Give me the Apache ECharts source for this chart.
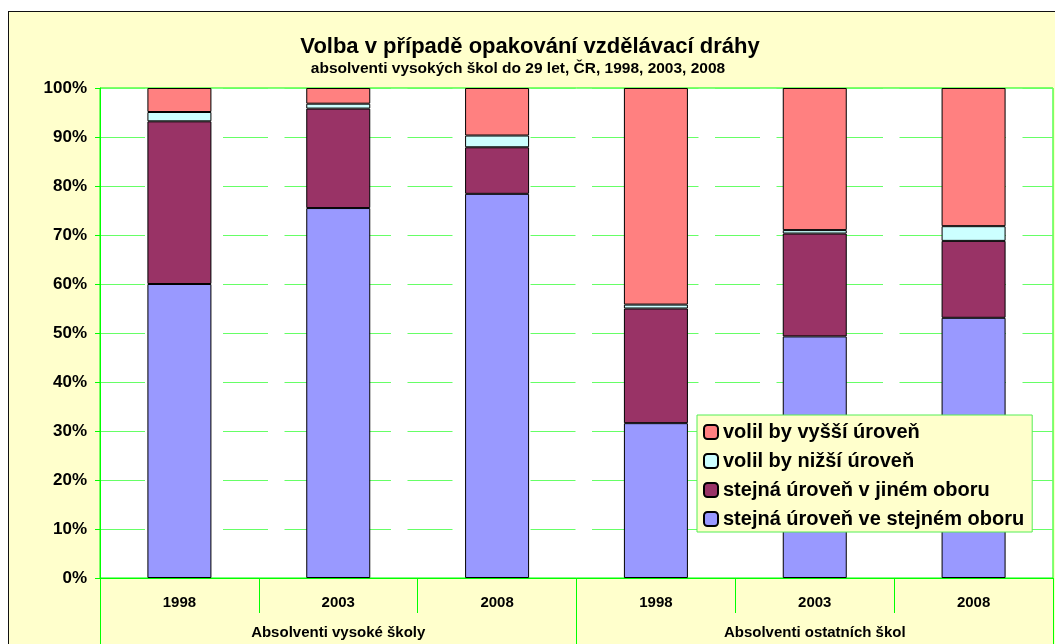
<!DOCTYPE html>
<html>
<head>
<meta charset="utf-8">
<script src="https://cdn.jsdelivr.net/npm/echarts@6/dist/echarts.min.js"></script>
<style>
  html, body { margin: 0; padding: 0; background: #fff; }
  #frame { position: absolute; left: 8px; top: 11px; width: 1100px; height: 700px; background: #FFFFCC; border: 1px solid #111; }
  #main { position: absolute; left: 0; top: 0; width: 1055px; height: 644px; }
  body { width: 1055px; height: 644px; overflow: hidden; position: relative; }
</style>
</head>
<body>
<div id="frame"></div>
<div id="main"></div>
<script>
// roky (spodni radek osy x) a skupiny (druhy radek)
const years = ['1998', '2003', '2008', '1998', '2003', '2008'];
const groups = ['Absolventi vysoké školy', 'Absolventi ostatních škol'];

// podily v %
const stejnaStejny = [60.0, 75.5, 78.4, 31.6, 49.3, 53.1];
const stejnaJiny = [33.2, 20.3, 9.5, 23.4, 21.0, 15.7];
const nizsi = [1.9, 1.0, 2.4, 0.8, 0.7, 3.0];
const vyssi = [4.9, 3.2, 9.7, 44.2, 29.0, 28.2];

const yTicks = [0, 10, 20, 30, 40, 50, 60, 70, 80, 90, 100];

var chartDom = document.getElementById('main');
var myChart = echarts.init(chartDom);
var option;

const FONT = 'Liberation Sans, Arial, sans-serif';
const GREEN = '#00FF00';

function barSeries(name, data, color) {
  return {
    name: name,
    type: 'bar',
    stack: 'celkem',
    xAxisIndex: 0,
    barWidth: 64,
    data: data,
    itemStyle: { color: color, borderColor: '#000', borderWidth: 1 }
  };
}

option = {
  backgroundColor: 'transparent',
  animation: false,
  graphic: [
    {
      type: 'text', x: 530, y: 47,
      style: {
        text: 'Volba v případě opakování vzdělávací dráhy',
        font: 'bold 22px ' + FONT, fill: '#000',
        textAlign: 'center', textVerticalAlign: 'middle'
      }
    },
    {
      type: 'text', x: 518, y: 69,
      style: {
        text: 'absolventi vysokých škol do 29 let, ČR, 1998, 2003, 2008',
        font: 'bold 15.5px ' + FONT, fill: '#000',
        textAlign: 'center', textVerticalAlign: 'middle'
      }
    }
  ],
  grid: {
    left: 100, top: 88, right: 2, bottom: 66,
    show: true, backgroundColor: '#fff',
    borderColor: GREEN, borderWidth: 1
  },
  legend: {
    orient: 'vertical',
    left: 697, top: 415,
    padding: [7, 8, 3, 6],
    itemGap: 9,
    itemWidth: 14, itemHeight: 14,
    backgroundColor: '#FFFFCC',
    borderColor: '#55EE55', borderWidth: 1,
    textStyle: { fontFamily: FONT, fontWeight: 'bold', fontSize: 20, color: '#000', lineHeight: 20 },
    data: ['volil by vyšší úroveň', 'volil by nižší úroveň', 'stejná úroveň v jiném oboru', 'stejná úroveň ve stejném oboru']
  },
  xAxis: [
    {
      type: 'category', position: 'bottom', data: years,
      axisLine: { lineStyle: { color: GREEN, width: 1 } },
      axisTick: { show: true, interval: 0, length: 35, lineStyle: { color: GREEN } },
      axisLabel: { interval: 0, margin: 17, fontFamily: FONT, fontWeight: 'bold', fontSize: 15, color: '#000' }
    },
    {
      type: 'category', position: 'bottom', data: groups,
      axisLine: { lineStyle: { color: GREEN, width: 1 } },
      axisTick: { show: true, interval: 0, length: 66, lineStyle: { color: GREEN } },
      axisLabel: { interval: 0, margin: 47, fontFamily: FONT, fontWeight: 'bold', fontSize: 15, color: '#000' }
    }
  ],
  yAxis: {
    type: 'value', min: yTicks[0], max: yTicks[yTicks.length - 1], interval: 10,
    axisLine: { show: true, lineStyle: { color: GREEN } },
    axisTick: { show: true, length: 5, lineStyle: { color: GREEN } },
    axisLabel: { formatter: '{value}%', margin: 13, fontFamily: FONT, fontWeight: 'bold', fontSize: 17, color: '#000' },
    splitLine: { lineStyle: { color: '#66FF66', type: [45, 16.5], width: 1 } }
  },
  series: [
    barSeries('stejná úroveň ve stejném oboru', stejnaStejny, '#9999FF'),
    barSeries('stejná úroveň v jiném oboru', stejnaJiny, '#993366'),
    barSeries('volil by nižší úroveň', nizsi, '#CCFFFF'),
    barSeries('volil by vyšší úroveň', vyssi, '#FF8080')
  ]
};

option && myChart.setOption(option);
</script>
</body>
</html>
